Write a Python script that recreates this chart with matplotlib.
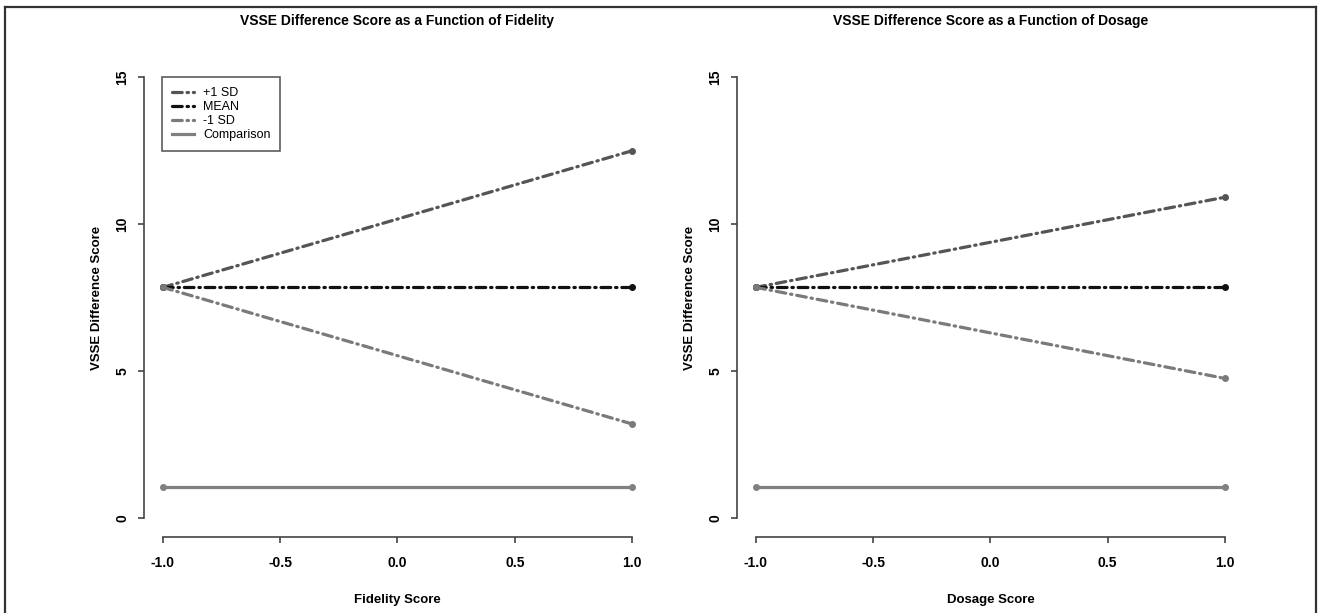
import matplotlib.pyplot as plt
from matplotlib.lines import Line2D

plt.rcParams['font.family'] = ['Liberation Sans', 'DejaVu Sans']
plt.rcParams['font.weight'] = 'bold'
plt.rcParams['lines.scale_dashes'] = False

# data
x_pts = [-1.0, 1.0]
fid_plus = [7.85, 12.5]
fid_mean = [7.85, 7.85]
fid_minus = [7.85, 3.2]
fid_comp = [1.05, 1.05]
dos_plus = [7.85, 10.92]
dos_mean = [7.85, 7.85]
dos_minus = [7.85, 4.75]
dos_comp = [1.05, 1.05]

x_ticks = [-1.0, -0.5, 0.0, 0.5, 1.0]
y_ticks = [0, 5, 10, 15]
series_names = ['+1 SD', 'MEAN', '-1 SD', 'Comparison']

panels = [
    ('VSSE Difference Score as a Function of Fidelity', 'Fidelity Score',
     [fid_plus, fid_mean, fid_minus, fid_comp]),
    ('VSSE Difference Score as a Function of Dosage', 'Dosage Score',
     [dos_plus, dos_mean, dos_minus, dos_comp]),
]

dashdot = (0, (7, 3.5, 1, 3.5))
styles = [
    dict(color='#555555', linestyle=dashdot),
    dict(color='#111111', linestyle=dashdot),
    dict(color='#7a7a7a', linestyle=dashdot),
    dict(color='#808080', linestyle='-'),
]

fig = plt.figure(figsize=(13.18, 6.13), dpi=100)
lefts = [0.1093, 0.5592]
width = 0.3845
bottom, height = 0.1263, 0.7763

for i, (title, xlab, ys) in enumerate(panels):
    ax = fig.add_axes([lefts[i], bottom, width, height])
    for y, st, name in zip(ys, styles, series_names):
        ax.plot(x_pts, y, lw=2.3, dash_capstyle='round', marker='o', ms=4,
                label=name, **st)
    ax.set_xlim(-1.08, 1.08)
    ax.set_ylim(-0.6, 15.6)
    ax.spines['top'].set_visible(False)
    ax.spines['right'].set_visible(False)
    ax.spines['bottom'].set_bounds(-1, 1)
    ax.spines['left'].set_bounds(0, 15)
    ax.spines['bottom'].set_position(('outward', 1))
    for s in ('bottom', 'left'):
        ax.spines[s].set_color('#444444')
        ax.spines[s].set_linewidth(1.2)
    ax.set_xticks(x_ticks)
    ax.set_xticklabels(['%.1f' % t for t in x_ticks])
    ax.set_yticks(y_ticks)
    ax.set_yticklabels([str(t) for t in y_ticks], rotation=90, va='center')
    ax.tick_params(length=4.5, width=1.2, color='#444444', labelsize=10, pad=9)
    ax.tick_params(axis='y', pad=6)
    ax.set_title(title, fontsize=10, fontweight='bold', pad=25)
    ax.set_xlabel(xlab, fontsize=9.5, fontweight='bold', labelpad=17.5)
    ax.set_ylabel('VSSE Difference Score', fontsize=9.5, fontweight='bold', labelpad=9)
    if i == 0:
        leg = ax.legend(loc='upper left', bbox_to_anchor=(0.036, 0.9636),
                        borderaxespad=0, fontsize=9, frameon=True, fancybox=False,
                        handlelength=1.75, borderpad=0.8, labelspacing=0.17,
                        handletextpad=0.7)
        leg.get_frame().set_edgecolor('#333333')
        leg.get_frame().set_linewidth(1.2)
        for h in leg.get_lines():
            h.set_marker('')
        for t in leg.get_texts():
            t.set_fontweight('normal')

# outer frame of the figure
W, H = 1318.0, 613.0
fx0, fx1, fy1 = 5.3 / W, 1316 / W, 1 - 7.3 / H
for xs, ys in [([fx0, fx0], [0, fy1]), ([fx0, fx1], [fy1, fy1]), ([fx1, fx1], [fy1, 0])]:
    fig.add_artist(Line2D(xs, ys, color='#333333', lw=1.6, transform=fig.transFigure))

fig.savefig('out.png', dpi=100)
